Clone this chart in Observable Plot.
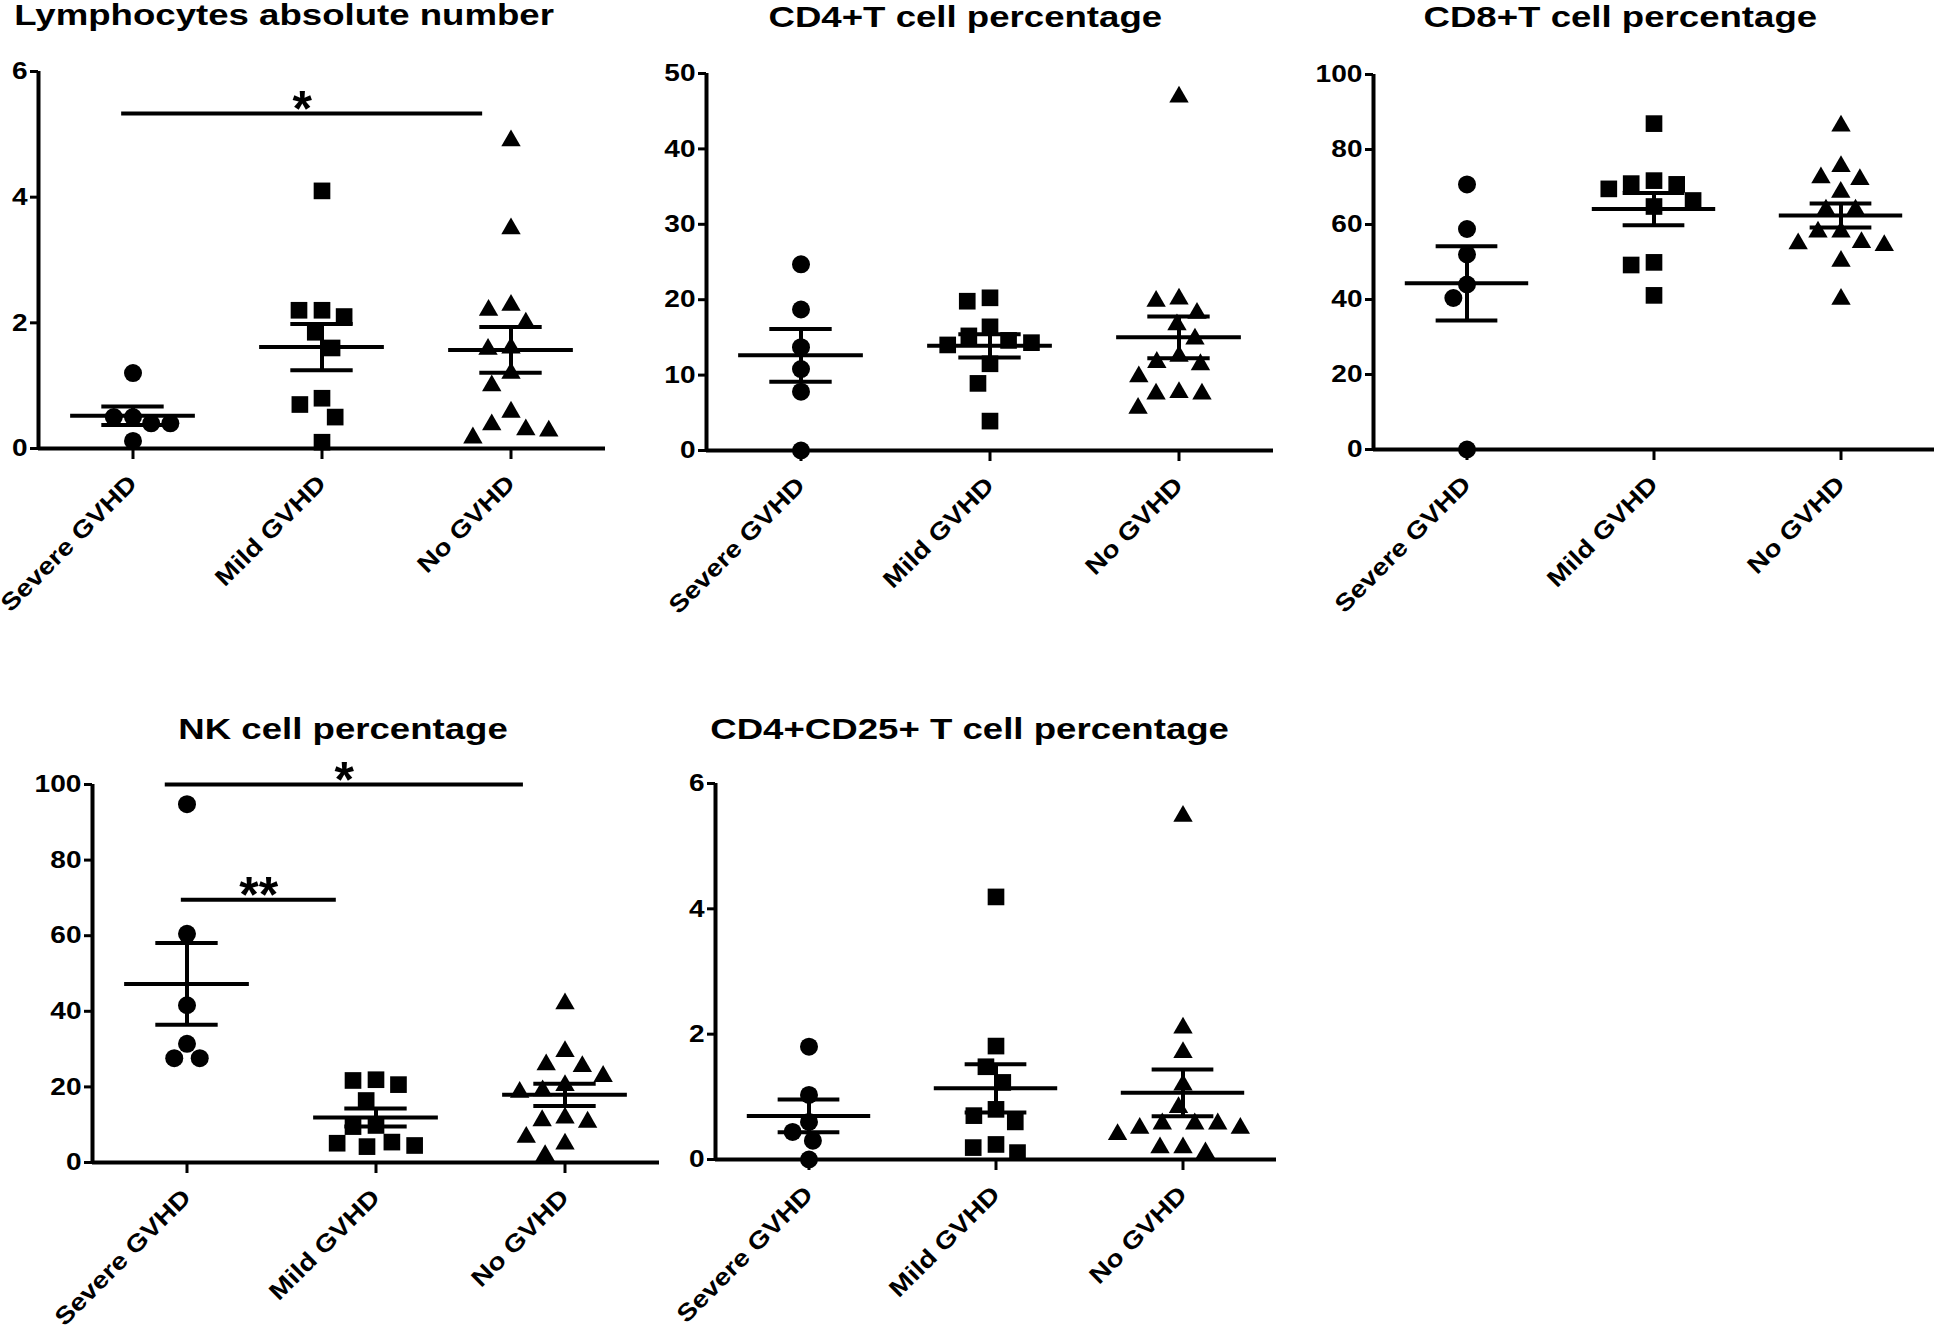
<!DOCTYPE html>
<html>
<head>
<meta charset="utf-8">
<script src="https://cdn.jsdelivr.net/npm/d3@7"></script>
<script src="https://cdn.jsdelivr.net/npm/@observablehq/plot@0.6"></script>
<style>
html, body { margin: 0; padding: 0; background: #fff; overflow: hidden; }
#root { position: relative; width: 1935px; height: 1331px; background: #fff; }
.title { position: absolute; width: 900px; text-align: center; font: bold 30px "Liberation Sans", Arial, sans-serif; line-height: 30px; color: #000; white-space: nowrap; }
.title span { display: inline-block; transform: scaleX(1.22); transform-origin: center; }
.panel { position: absolute; }
</style>
</head>
<body>
<div id="root"></div>
<script>
// ---- categories ----
const groups = ["Severe GVHD", "Mild GVHD", "No GVHD"];
const symbols = ["circle", "square", "triangle"];

// ---- Lymphocytes absolute number ----
const lymphSevere = [1.2, 0.5, 0.5, 0.4, 0.4, 0.12];
const lymphMild = [4.1, 2.2, 2.2, 2.1, 1.85, 1.6, 0.8, 0.7, 0.5, 0.1];
const lymphNo = [4.9, 3.5, 2.28, 2.2, 2.0, 1.6, 1.58, 1.2, 1.0, 0.58, 0.38, 0.3, 0.28, 0.17];

// ---- CD4+T cell percentage ----
const cd4Severe = [24.7, 18.7, 13.7, 10.8, 7.8, 0];
const cd4Mild = [20.25, 19.8, 16.4, 15.2, 14.6, 14.3, 14.0, 11.5, 8.9, 3.9];
const cd4No = [46.9, 20.1, 19.8, 18.2, 16.7, 14.8, 12.5, 11.7, 11.4, 9.8, 7.7, 7.5, 7.5, 5.6];

// ---- CD8+T cell percentage ----
const cd8Severe = [70.7, 58.8, 52, 44, 40.4, 0];
const cd8Mild = [86.9, 71.7, 70.9, 70.7, 69.5, 66.4, 64.8, 49.9, 49.2, 41.1];
const cd8No = [86.3, 75.5, 72.5, 72, 68.6, 63.9, 63.9, 58, 58, 55.2, 54.9, 54.4, 50.2, 40.1];

// ---- NK cell percentage ----
const nkSevere = [94.8, 60.5, 41.6, 31.4, 27.6, 27.6];
const nkMild = [21.9, 21.7, 20.6, 16.4, 9.8, 9.5, 5.4, 5.1, 4.5, 4.2];
const nkNo = [42.0, 29.4, 25.9, 25.4, 22.8, 20.4, 19.0, 18.6, 11.8, 11.1, 10.7, 6.7, 4.9, 1.85];

// ---- CD4+CD25+ T cell percentage ----
const tregSevere = [1.8, 1.03, 0.6, 0.44, 0.3, 0];
const tregMild = [4.19, 1.81, 1.48, 1.23, 0.8, 0.7, 0.6, 0.24, 0.19, 0.11];
const tregNo = [5.48, 2.1, 1.71, 1.19, 0.83, 0.57, 0.57, 0.57, 0.5, 0.5, 0.4, 0.19, 0.19, 0.11];

// ---- y tick values ----
const ticks0to6 = [0, 2, 4, 6];
const ticks0to50 = [0, 10, 20, 30, 40, 50];
const ticks0to100 = [0, 20, 40, 60, 80, 100];

// ---- significance annotations ----
const lymphSig = [{from: "Severe GVHD", to: "No GVHD", level: 5.33, label: "*"}];
const nkSig = [
  {from: "Severe GVHD", to: "No GVHD", level: 100, label: "*"},
  {from: "Severe GVHD", to: "Mild GVHD", level: 69.5, label: "**"}
];

// ---- layout (pixels) ----
const panels = [
  {title: "Lymphocytes absolute number", series: [lymphSevere, lymphMild, lymphNo], yMax: 6, yTicks: ticks0to6,
   sig: lymphSig, sigInset: [[-0.12, -0.30]],
   axisX: 38, frameTop: 71, frameW: 567, frameH: 377, mL: 38, mR: 15, mT: 40, mB: 190, titleX: 284, titleTop: 0},
  {title: "CD4+T cell percentage", series: [cd4Severe, cd4Mild, cd4No], yMax: 50, yTicks: ticks0to50,
   sig: [], sigInset: [],
   axisX: 706, frameTop: 73, frameW: 567, frameH: 377, mL: 70, mR: 15, mT: 40, mB: 190, titleX: 965, titleTop: 2},
  {title: "CD8+T cell percentage", series: [cd8Severe, cd8Mild, cd8No], yMax: 100, yTicks: ticks0to100,
   sig: [], sigInset: [],
   axisX: 1372, frameTop: 74, frameW: 563, frameH: 375, mL: 70, mR: 0, mT: 40, mB: 190, titleX: 1620, titleTop: 2},
  {title: "NK cell percentage", series: [nkSevere, nkMild, nkNo], yMax: 100, yTicks: ticks0to100,
   sig: nkSig, sigInset: [[-0.23, -0.44], [-0.06, -0.42]],
   axisX: 91, frameTop: 784, frameW: 568, frameH: 378, mL: 80, mR: 15, mT: 60, mB: 168, titleX: 343, titleTop: 714},
  {title: "CD4+CD25+ T cell percentage", series: [tregSevere, tregMild, tregNo], yMax: 6, yTicks: ticks0to6,
   sig: [], sigInset: [],
   axisX: 714, frameTop: 783, frameW: 562, frameH: 376, mL: 70, mR: 15, mT: 60, mB: 170, titleX: 970, titleTop: 714}
];

const dotR = [9, 9.4, 7.2];        // drawn radius per symbol
const layoutR = [9.1, 11, 11];      // spacing radius for the dodge layout
const SW = 4;                       // line weight

function meanSem(vals) {
  const m = d3.mean(vals);
  const se = d3.deviation(vals) / Math.sqrt(vals.length);
  return {mean: m, lo: m - se, hi: m + se};
}

const root = document.getElementById("root");

for (const p of panels) {
  const rows = p.series.map((vals, i) => vals.map(v => ({group: groups[i], value: v})));
  const st = p.series.map((vals, i) => ({group: groups[i], ...meanSem(vals)}));
  const sig = p.sig.map((s, k) => {
    const x1 = 2 * groups.indexOf(s.from) + p.sigInset[k][0];
    const x2 = 2 * groups.indexOf(s.to) + p.sigInset[k][1];
    return {...s, anchor: groups[0], x1, x2, xm: (x1 + x2) / 2};
  });

  const marks = [
    Plot.ruleY([0], {strokeWidth: SW}),
    Plot.ruleX([{g: groups[0]}], {fx: "g", x: -1, y1: 0, y2: p.yMax, strokeWidth: SW}),
    Plot.axisY({ticks: p.yTicks, tickSize: 8, tickPadding: 3, strokeWidth: 3, label: null, tickFormat: d => String(d)}),
    Plot.axisFx({anchor: "bottom", tickRotate: -45, tickSize: 11, tickPadding: 20, strokeWidth: 3, label: null}),
    ...rows.map((r, i) => Plot.dot(r, Plot.dodgeX(
      {anchor: "middle", padding: 1, r: layoutR[i]},
      {fx: "group", y: "value", r: dotR[i], symbol: symbols[i], fill: "black", stroke: "none"}))),
    Plot.ruleY(st, {fx: "group", y: "mean", x1: -0.66, x2: 0.66, strokeWidth: SW}),
    Plot.ruleY(st, {fx: "group", y: "hi", x1: -0.33, x2: 0.33, strokeWidth: SW}),
    Plot.ruleY(st, {fx: "group", y: "lo", x1: -0.33, x2: 0.33, strokeWidth: SW}),
    Plot.ruleX(st, {fx: "group", x: 0, y1: "lo", y2: "hi", strokeWidth: SW}),
    Plot.ruleY(sig, {fx: "anchor", y: "level", x1: "x1", x2: "x2", strokeWidth: SW}),
    Plot.text(sig, {fx: "anchor", x: "xm", y: "level", text: "label", fontSize: 50, dy: -4})
  ];

  const chart = Plot.plot({
    width: p.mL + p.frameW + p.mR,
    height: p.mT + p.frameH + p.mB,
    marginLeft: p.mL, marginRight: p.mR, marginTop: p.mT, marginBottom: p.mB,
    style: {fontFamily: '"Liberation Sans", Arial, sans-serif', fontSize: "24px", fontWeight: "bold", color: "#000", background: "transparent", overflow: "visible"},
    fx: {domain: groups, padding: 0, axis: null, label: null},
    x: {domain: [-1, 1], axis: null},
    y: {domain: [0, p.yMax], axis: null},
    marks
  });

  const wrap = document.createElement("div");
  wrap.className = "panel";
  wrap.style.left = (p.axisX - p.mL) + "px";
  wrap.style.top = (p.frameTop - p.mT) + "px";
  wrap.appendChild(chart);
  root.appendChild(wrap);

  const t = document.createElement("div");
  t.className = "title";
  t.style.left = (p.titleX - 450) + "px";
  t.style.top = p.titleTop + "px";
  const s = document.createElement("span");
  s.textContent = p.title;
  t.appendChild(s);
  root.appendChild(t);

  // widen axis labels to match the reference's wide lettering
  chart.querySelectorAll('g[aria-label="y-axis tick label"] text, g[aria-label="fx-axis tick label"] text').forEach(el => {
    const L = el.getComputedTextLength();
    el.setAttribute("textLength", (L * 1.17).toFixed(1));
    el.setAttribute("lengthAdjust", "spacingAndGlyphs");
  });
}
</script>
</body>
</html>
